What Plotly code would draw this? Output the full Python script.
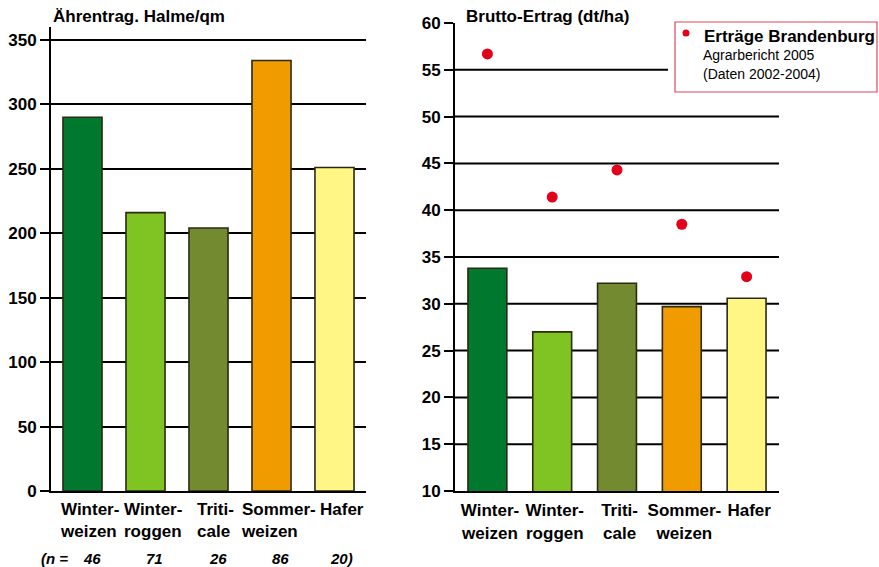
import plotly.graph_objects as go

# --- data -------------------------------------------------------------
categories = ["Winter-<br>weizen", "Winter-<br>roggen", "Triti-<br>cale",
              "Sommer-<br>weizen", "Hafer"]
sample_sizes = ["46", "71", "26", "86", "20)"]
halme_qm = [290, 216, 204, 334, 251]
brutto_ertrag = [33.8, 27.0, 32.2, 29.7, 30.6]
ertrag_brandenburg = [56.7, 41.4, 44.3, 38.5, 32.9]
bar_colors = ["#00782d", "#80c424", "#738a30", "#f09b00", "#fff685"]

left_ticks = [0, 50, 100, 150, 200, 250, 300, 350]
right_ticks = [10, 15, 20, 25, 30, 35, 40, 45, 50, 55, 60]
right_grid = [15, 20, 25, 30, 35, 40, 45, 50, 55]

W, H = 879, 567
FONT = "Liberation Sans, Arial, sans-serif"
pos = list(range(len(categories)))


def px(x):
    return x / W


def py(y):
    return 1 - y / H


fig = go.Figure()

fig.add_trace(go.Bar(
    x=pos, y=halme_qm, width=0.62,
    marker=dict(color=bar_colors, line=dict(color="#2b2b14", width=1.6)),
    xaxis="x", yaxis="y", showlegend=False, hoverinfo="y",
))
fig.add_trace(go.Bar(
    x=pos, y=brutto_ertrag, width=0.6,
    marker=dict(color=bar_colors, line=dict(color="#2b2b14", width=1.6)),
    xaxis="x2", yaxis="y2", showlegend=False, hoverinfo="y",
))
fig.add_trace(go.Scatter(
    x=pos, y=ertrag_brandenburg, mode="markers",
    marker=dict(color="#e2001a", size=11),
    xaxis="x2", yaxis="y2", showlegend=False, hoverinfo="y",
))

tickfont = dict(family=FONT, size=17, color="black", weight="bold")

common_x = dict(range=[-0.5, 4.5], showline=True, linecolor="black", linewidth=2,
                showgrid=False, zeroline=False, ticks="", tickmode="array",
                tickfont=tickfont, fixedrange=True, automargin=False,
                ticklabelstandoff=3)
common_y = dict(showline=True, linecolor="black", linewidth=2, ticks="outside",
                ticklen=9, tickwidth=2, tickcolor="black", zeroline=False,
                tickfont=tickfont, tickmode="array", fixedrange=True,
                automargin=False)

fig.update_layout(
    width=W, height=H,
    margin=dict(l=0, r=0, t=0, b=0),
    paper_bgcolor="white", plot_bgcolor="white",
    bargap=0.38,
    xaxis=dict(domain=[px(51), px(366)], anchor="y", showticklabels=False,
               tickvals=pos, **common_x),
    yaxis=dict(domain=[py(491), py(27)], anchor="x", range=[0, 360],
               tickvals=left_ticks, showgrid=True, gridcolor="black", gridwidth=2,
               **common_y),
    xaxis2=dict(domain=[px(455), px(779)], anchor="y2",
                tickvals=[p + 0.04 for p in pos], ticktext=categories, **common_x),
    yaxis2=dict(domain=[py(491), py(23)], anchor="x2", range=[10, 60],
                tickvals=right_ticks, showgrid=False, **common_y),
)

shapes = []
# horizontal grid for the yield panel (no line at the top value)
for v in right_grid:
    shapes.append(dict(type="line", xref="x2 domain", yref="y2", x0=0, x1=1,
                       y0=v, y1=v, line=dict(color="black", width=2), layer="below"))
# legend box
shapes.append(dict(type="rect", xref="paper", yref="paper",
                   x0=px(668), x1=px(877), y0=py(92), y1=py(22),
                   fillcolor="white", line=dict(width=0), layer="above"))
shapes.append(dict(type="rect", xref="paper", yref="paper",
                   x0=px(675), x1=px(877), y0=py(92), y1=py(22),
                   fillcolor="white", line=dict(color="#d84a5a", width=1.2), layer="above"))
shapes.append(dict(type="circle", xref="paper", yref="paper",
                   x0=px(682.5), x1=px(689.5), y0=py(36.5), y1=py(29.5),
                   fillcolor="#e2001a", line=dict(width=0), layer="above"))
fig.update_layout(shapes=shapes)

ann = []
title_font = dict(family=FONT, size=17, color="black", weight="bold")
ann.append(dict(text="Ährentrag. Halme/qm", xref="paper", yref="paper",
                x=px(51), y=py(17), xanchor="left", yanchor="middle",
                showarrow=False, font=title_font))
ann.append(dict(text="Brutto-Ertrag (dt/ha)", xref="paper", yref="paper",
                x=px(464), y=py(17), xanchor="left", yanchor="middle",
                showarrow=False, font=title_font))

# category labels of the left panel (left-aligned blocks)
for p, c in zip(pos, categories):
    ann.append(dict(text=c, xref="x", yref="paper", x=p, y=py(498),
                    xanchor="center", yanchor="top", align="left", xshift=7,
                    showarrow=False, font=tickfont))

# legend text
ann.append(dict(text="Erträge Brandenburg", xref="paper", yref="paper",
                x=px(702), y=py(36), xanchor="left", yanchor="middle",
                showarrow=False, font=title_font))
small = dict(family=FONT, size=14, color="black")
ann.append(dict(text="Agrarbericht 2005", xref="paper", yref="paper",
                x=px(701), y=py(55), xanchor="left", yanchor="middle",
                showarrow=False, font=small))
ann.append(dict(text="(Daten 2002-2004)", xref="paper", yref="paper",
                x=px(701), y=py(74), xanchor="left", yanchor="middle",
                showarrow=False, font=small))

# sample sizes under the left panel
nfont = dict(family=FONT, size=15, color="black", weight="bold", style="italic")
ann.append(dict(text="(n =", xref="paper", yref="paper",
                x=px(39), y=py(558), xanchor="left", yanchor="middle",
                showarrow=False, font=nfont))
for p, n in zip(pos, sample_sizes):
    if n.endswith(")"):
        ann.append(dict(text=n, xref="x", yref="paper", x=p, y=py(558),
                        xanchor="left", yanchor="middle", xshift=-7,
                        showarrow=False, font=nfont))
    else:
        ann.append(dict(text=n, xref="x", yref="paper", x=p, y=py(558),
                        xanchor="center", yanchor="middle", xshift=9,
                        showarrow=False, font=nfont))
fig.update_layout(annotations=ann)

fig.write_html("out.html")
